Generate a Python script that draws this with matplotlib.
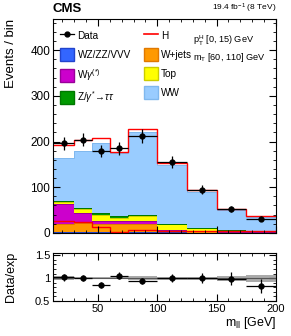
import numpy as np
import matplotlib
matplotlib.use('Agg')
import matplotlib.pyplot as plt
from matplotlib.patches import Patch
from matplotlib.lines import Line2D
from matplotlib.ticker import MultipleLocator

plt.rcParams['font.family'] = ['Liberation Sans', 'DejaVu Sans']
plt.rcParams['mathtext.fontset'] = 'custom'
plt.rcParams['mathtext.rm'] = 'Liberation Sans'
plt.rcParams['mathtext.it'] = 'Liberation Sans:italic'

# bin edges in m_ll [GeV]
edges = [12, 30, 45, 60, 75, 100, 125, 150, 175, 200]

# background components, bottom to top of the stack
vvv = [2, 2, 2, 1.5, 1.5, 1, 0.5, 0.5, 0.5]
wjets = [17, 20, 17, 18.5, 18.5, 5, 3.5, 1.5, 1.5]
wgamma = [44, 22, 7, 5, 5, 1, 0.5, 0.5, 0.3]
top = [5, 9, 12.7, 8.6, 11.5, 12, 6.5, 3.5, 2.4]
ztautau = [1, 1, 5, 3.6, 3, 0.5, 0.3, 0.2, 0.2]
ww = [96, 125, 152, 137, 182, 130, 78.5, 43.4, 29]
higgs = [27, 24, 13, 2, 6, 4.5, 3.6, 3, 3.6]

data = [196, 204, 179, 185, 212, 155, 94, 52, 31]
# relative uncertainty of the expectation (ratio band)
syst = [0.05, 0.02, 0.02, 0.02, 0.045, 0.03, 0.03, 0.055, 0.075]

comps = [
    (vvv, '#3366ff', '#2244cc', 'WZ/ZZ/VVV'),
    (wjets, '#ff9900', '#e07800', 'W+jets'),
    (wgamma, '#cc00cc', '#990099', r'W$\gamma^{(*)}$'),
    (top, '#ffff00', '#cccc00', 'Top'),
    (ztautau, '#009900', '#007700', r'Z/$\gamma^{*}\!\rightarrow\!\tau\tau$'),
    (ww, '#99ccff', '#80b8ee', 'WW'),
]

edges = np.array(edges)
centers = 0.5 * (edges[1:] + edges[:-1])
halfw = 0.5 * (edges[1:] - edges[:-1])
data = np.array(data, dtype=float)

fig = plt.figure(figsize=(2.91, 3.36), dpi=100)
ax = fig.add_axes([0.182, 0.307, 0.766, 0.636])
rax = fig.add_axes([0.182, 0.104, 0.766, 0.143])

# stacked histogram
bottom = np.zeros(len(data))
for vals, fc, ec, lab in comps:
    vals = np.array(vals, dtype=float)
    ax.stairs(bottom + vals, edges, baseline=bottom, fill=True, color=fc, lw=0)
    ax.stairs(bottom + vals, edges, baseline=None, color=ec, lw=0.7)
    bottom = bottom + vals
total = bottom + np.array(higgs)
ax.stairs(total, edges, baseline=None, color='red', lw=1.0)
ax.stairs(higgs, edges, baseline=None, color='red', lw=1.0)

ax.errorbar(centers, data, yerr=np.sqrt(data), xerr=halfw, fmt='o', color='black',
            ms=3.5, lw=0.9, capsize=0)

ax.set_xlim(12, 200)
ax.set_ylim(0, 468)
ax.set_ylabel('Events / bin', fontsize=9.5, loc='top')
ax.tick_params(labelbottom=False)

# legend
handles = [
    Line2D([], [], marker='o', color='black', ms=3.5, lw=0.9),
    Patch(facecolor=comps[0][1], edgecolor=comps[0][2]),
    Patch(facecolor=comps[2][1], edgecolor=comps[2][2]),
    Patch(facecolor=comps[4][1], edgecolor=comps[4][2]),
    Line2D([], [], color='red', lw=1.2),
    Patch(facecolor=comps[1][1], edgecolor=comps[1][2]),
    Patch(facecolor=comps[3][1], edgecolor=comps[3][2]),
    Patch(facecolor=comps[5][1], edgecolor=comps[5][2]),
]
labels = ['Data', comps[0][3], comps[2][3], comps[4][3],
          'H', comps[1][3], comps[3][3], comps[5][3]]
ax.legend(handles, labels, ncol=2, loc='upper left', bbox_to_anchor=(0.0, 0.985),
          frameon=False, fontsize=7.2, handlelength=1.4, handleheight=1.6,
          handletextpad=0.35, labelspacing=0.6, columnspacing=1.3, borderaxespad=0.3)

ax.text(0.628, 0.90, r'p$_{\rm T}^{\rm H}$ [0, 15) GeV', transform=ax.transAxes,
        fontsize=6.6, va='center')
ax.text(0.628, 0.82, r'm$_{\rm T}$ [60, 110] GeV', transform=ax.transAxes,
        fontsize=6.6, va='center')

fig.text(0.182, 0.955, 'CMS', fontsize=9.5, fontweight='bold', ha='left', va='bottom')
fig.text(0.948, 0.955, r'19.4 fb$^{-1}$ (8 TeV)', fontsize=6, ha='right', va='bottom')

# ratio panel
ratio = data / total
rerr = np.sqrt(data) / total
syst = np.array(syst)
rax.stairs(1 + syst, edges, baseline=1 - syst, fill=True, color='#aaaaaa', lw=0)
rax.axhline(1, color='#555555', lw=0.8)
rax.errorbar(centers, ratio, yerr=rerr, xerr=halfw, fmt='o', color='black',
             ms=3.5, lw=0.9, capsize=0)
rax.set_xlim(12, 200)
rax.set_ylim(0.5, 1.55)
rax.set_yticks([0.5, 1, 1.5])
rax.set_yticklabels(['0.5', '1', '1.5'])
rax.set_ylabel('Data/exp', fontsize=9)
rax.set_xlabel(r'm$_{\rm ll}$ [GeV]', fontsize=9, loc='right', labelpad=1)

for a in (ax, rax):
    a.xaxis.set_major_locator(MultipleLocator(50))
    a.xaxis.set_minor_locator(MultipleLocator(10))
    a.tick_params(which='both', direction='in', top=True, right=True, labelsize=8.5, pad=2)
    a.tick_params(which='major', length=5)
    a.tick_params(which='minor', length=2.5)
    for s in a.spines.values():
        s.set_linewidth(0.8)
ax.yaxis.set_major_locator(MultipleLocator(100))
ax.yaxis.set_minor_locator(MultipleLocator(20))
rax.yaxis.set_minor_locator(MultipleLocator(0.1))
rax.tick_params(labelsize=8)

ax.yaxis.set_label_coords(-0.16, 1.0)
rax.yaxis.set_label_coords(-0.16, 0.5)

fig.savefig('out.png', dpi=100)
